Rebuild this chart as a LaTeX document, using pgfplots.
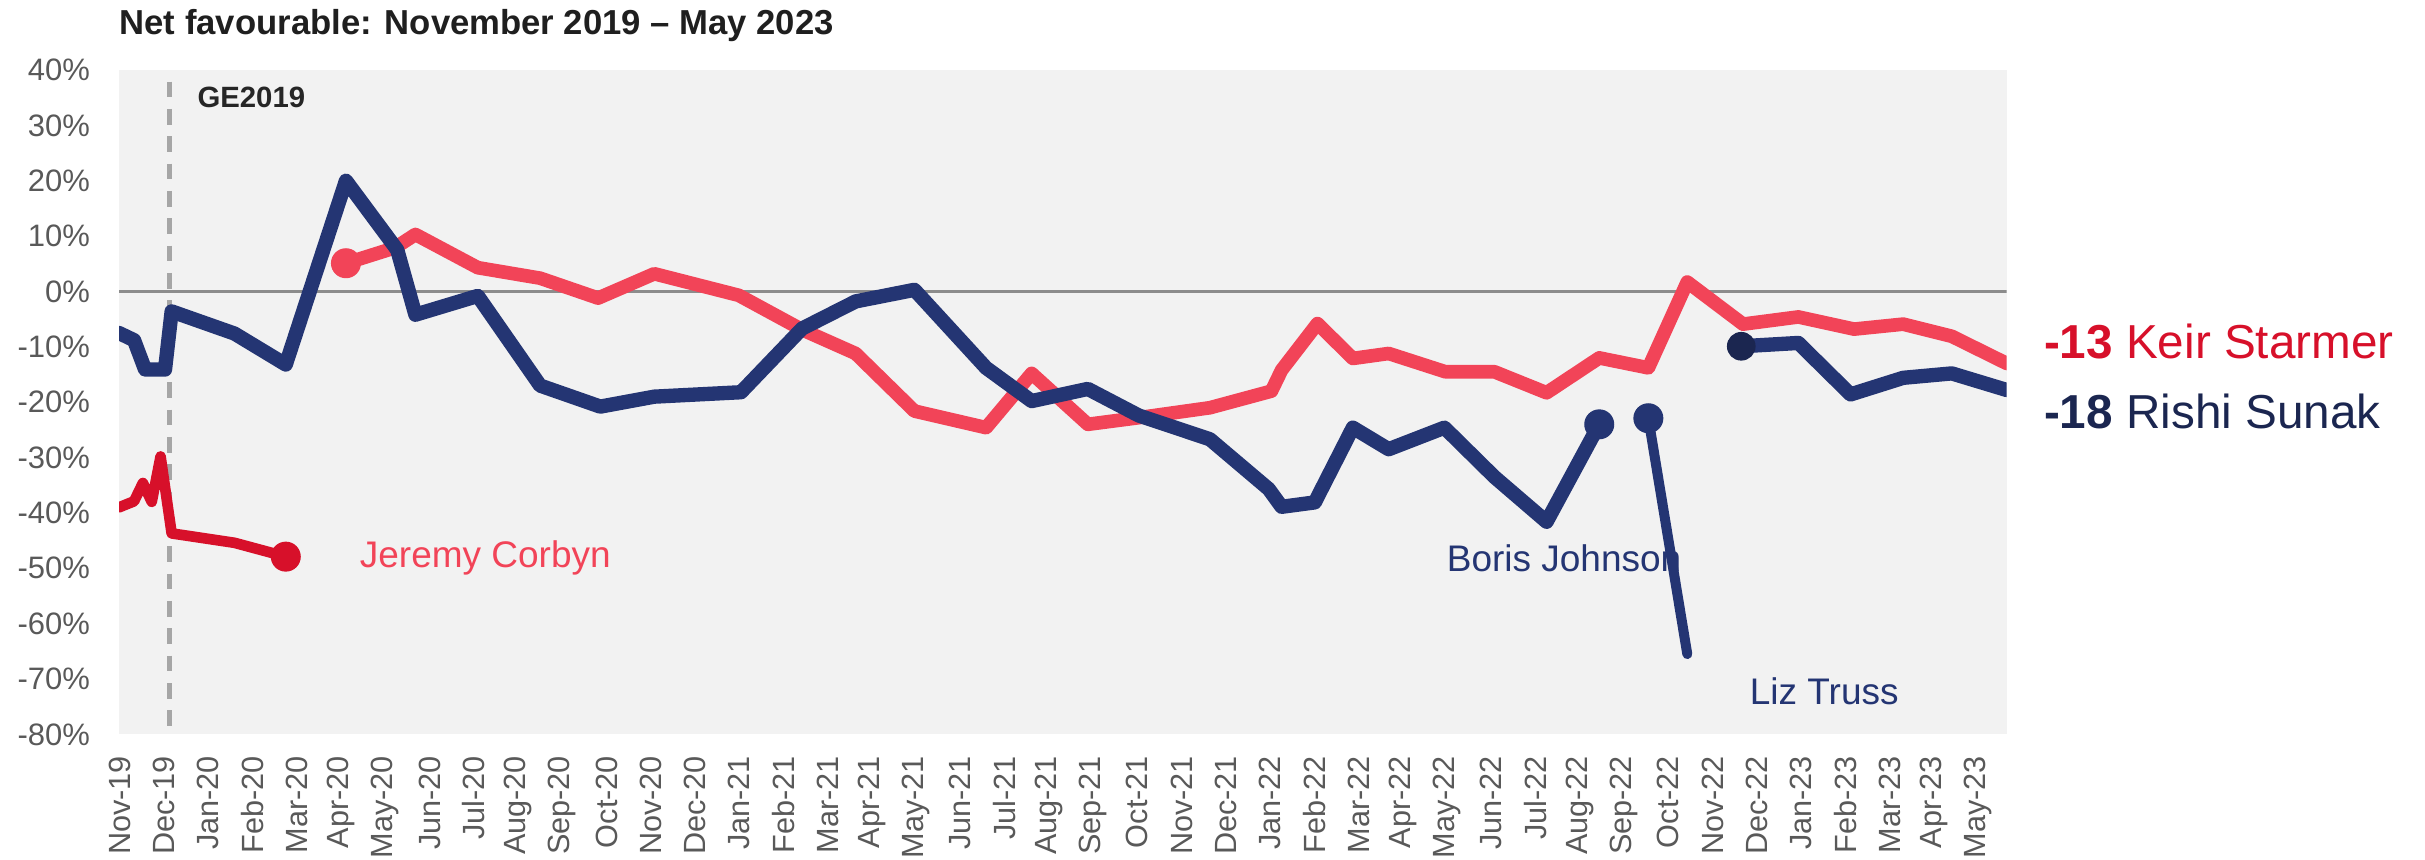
\documentclass[border=0pt]{standalone}
\usepackage{fontspec}
\setmainfont{Liberation Sans}
\usepackage{pgfplots}
\pgfplotsset{compat=1.18}
\definecolor{con}{HTML}{243573}
\definecolor{conDark}{HTML}{1B2650}
\definecolor{lab}{HTML}{F24458}
\definecolor{labDark}{HTML}{D7102A}
\definecolor{bgc}{HTML}{F2F2F2}
\definecolor{tickc}{HTML}{595959}
\definecolor{zeroc}{HTML}{8C8C8C}
\definecolor{gec}{HTML}{A6A6A6}

\begin{document}
\begin{tikzpicture}
\begin{axis}[
  name=ax,
  scale only axis,
  width=566.3pt, height=199.3pt,
  xmin=-0.02, xmax=42.65, ymin=-80, ymax=40,
  axis background/.style={fill=bgc},
  axis line style={draw=none},
  major tick length=0pt,
  ytick={-80,-70,-60,-50,-40,-30,-20,-10,0,10,20,30,40},
  yticklabels={-80\%,-70\%,-60\%,-50\%,-40\%,-30\%,-20\%,-10\%,0\%,10\%,20\%,30\%,40\%},
  xtick={0,1,2,3,4,5,6,7,8,9,10,11,12,13,14,15,16,17,18,19,20,21,22,23,24,25,26,27,28,29,30,31,32,33,34,35,36,37,38,39,40,41,42},
  xticklabels={Nov-19,Dec-19,Jan-20,Feb-20,Mar-20,Apr-20,May-20,Jun-20,Jul-20,Aug-20,Sep-20,Oct-20,Nov-20,Dec-20,Jan-21,Feb-21,Mar-21,Apr-21,May-21,Jun-21,Jul-21,Aug-21,Sep-21,Oct-21,Nov-21,Dec-21,Jan-22,Feb-22,Mar-22,Apr-22,May-22,Jun-22,Jul-22,Aug-22,Sep-22,Oct-22,Nov-22,Dec-22,Jan-23,Feb-23,Mar-23,Apr-23,May-23},
  yticklabel style={font=\fontsize{9.3}{11}\selectfont, text=tickc, anchor=east, inner sep=0pt},
  yticklabel shift=8.5pt,
  xticklabel style={font=\fontsize{9.2}{11}\selectfont, text=tickc, rotate=90, anchor=east, inner sep=0pt},
  xticklabel shift=6.3pt,
  every axis plot/.append style={line join=round, line cap=round},
]
% zero line
\addplot[zeroc, line width=0.7pt, line cap=butt] coordinates {(-0.02,0) (42.65,0)};
% GE2019 line
\addplot[gec, line width=1.4pt, line cap=butt, dash pattern=on 4.7pt off 3.5pt] coordinates {(1.12,37.9) (1.12,-80)};
\node[anchor=west, inner sep=0pt, font=\fontsize{8.8}{10}\selectfont\bfseries, text=black!85] at (axis cs:1.74,35.05) {GE2019};

% Corbyn
\addplot[labDark, line width=3.2pt] coordinates {
(-0.02,-39.0) (0.32,-37.9) (0.52,-34.6) (0.72,-38.0) (0.92,-29.8) (1.17,-43.7) (2.59,-45.4) (3.75,-47.9)};
\addplot[labDark, only marks, mark=*, mark size=4.3pt] coordinates {(3.75,-47.9)};

% Starmer
\addplot[lab, line width=4.1pt] coordinates {
(5.11,5.1) (6.22,7.9) (6.68,10.3) (8.09,4.3) (9.50,2.4) (10.81,-1.2) (12.08,3.2) (13.99,-0.7)
(15.42,-6.9) (16.63,-11.2) (17.96,-21.6) (19.58,-24.6) (20.61,-14.8) (21.88,-24.0) (23.03,-22.8)
(24.64,-21.0) (26.03,-18.0) (26.26,-14.2) (27.07,-5.8) (27.87,-12.1) (28.68,-11.2) (29.96,-14.5)
(31.07,-14.5) (32.25,-18.3) (33.44,-12.0) (34.55,-13.8) (35.43,1.7) (36.69,-5.9) (37.94,-4.6)
(39.20,-6.8) (40.31,-5.9) (41.41,-8.1) (42.65,-13.0)};
\addplot[lab, only marks, mark=*, mark size=4.3pt] coordinates {(5.11,5.1)};

% Johnson
\addplot[con, line width=4.3pt] coordinates {
(-0.02,-7.5) (0.32,-8.8) (0.57,-14.1) (1.02,-14.1) (1.17,-3.6) (2.59,-7.6) (3.75,-13.2)
(5.11,20.0) (6.27,7.5) (6.68,-4.2) (8.09,-0.8) (9.50,-17.0) (10.86,-20.8) (12.08,-19.0)
(14.04,-18.2) (15.42,-6.7) (16.63,-1.8) (17.96,0.3) (19.58,-13.8) (20.61,-19.8) (21.88,-17.6)
(23.03,-22.4) (24.64,-26.7) (25.97,-35.7) (26.26,-38.9) (27.01,-38.1) (27.87,-24.6) (28.68,-28.5)
(29.94,-24.6) (31.07,-33.5) (32.25,-41.6) (33.44,-24.0)};
\addplot[con, only marks, mark=*, mark size=4.3pt] coordinates {(33.44,-24.0)};
\node[anchor=west, inner sep=0pt, font=\fontsize{11.1}{13}\selectfont, text=lab] at (axis cs:5.41,-48.2) {Jeremy Corbyn};
\node[anchor=west, inner sep=0pt, font=\fontsize{11.1}{13}\selectfont, text=con] at (axis cs:29.98,-48.2) {Boris Johnson};

% Truss
\addplot[con, line width=3.0pt] coordinates {(34.55,-22.9) (35.43,-65.5)};
\addplot[con, only marks, mark=*, mark size=4.3pt] coordinates {(34.55,-22.9)};
\node[anchor=west, inner sep=0pt, font=\fontsize{11.1}{13}\selectfont, text=con] at (axis cs:36.83,-72.2) {Liz Truss};

% Sunak
\addplot[con, line width=4.3pt] coordinates {
(36.65,-9.9) (37.94,-9.3) (39.12,-18.6) (40.31,-15.6) (41.41,-14.8) (42.65,-17.8)};
\addplot[conDark, only marks, mark=*, mark size=4.1pt] coordinates {(36.65,-9.9)};

\coordinate (ks) at (axis cs:42.65,-9.08);
\coordinate (rs) at (axis cs:42.65,-21.7);
\end{axis}
\node[anchor=base west, inner sep=0pt, font=\fontsize{10.4}{12}\selectfont\bfseries, text=black!88] at ([yshift=10.8pt]ax.north west) {Net favourable: November 2019 \textendash{} May 2023};
\node[anchor=west, inner sep=0pt, font=\fontsize{14.3}{16}\selectfont, text=labDark] at ([xshift=11pt]ks) {\textbf{-13} Keir Starmer};
\node[anchor=west, inner sep=0pt, font=\fontsize{14.3}{16}\selectfont, text=conDark] at ([xshift=11pt]rs) {\textbf{-18} Rishi Sunak};
\pgfresetboundingbox
\useasboundingbox (-35.7pt,-37.4pt) rectangle (691.8pt,220.3pt);
\end{tikzpicture}
\end{document}
